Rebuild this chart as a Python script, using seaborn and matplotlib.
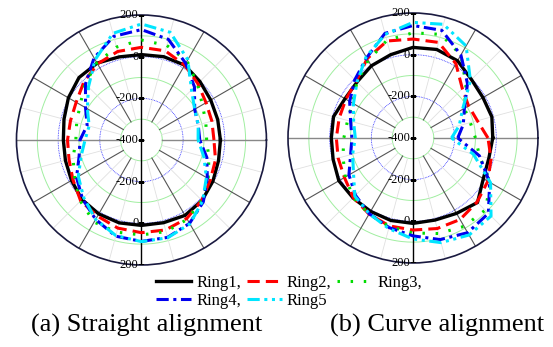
import numpy as np
import matplotlib
matplotlib.use("Agg")
import matplotlib.pyplot as plt
import matplotlib.transforms as mtransforms
import seaborn as sns

# angles in degrees (0 = east, counter-clockwise)
angles = list(range(0, 360, 15))

# (a) straight alignment
straight_ring1 = [-21, -21, -16, -3, 15, 14, 10, 13, 26, 24, 5, -15,
                  -25, -22, -12, 4, 10, 12, 10, 11, 18, 11, -4, -17]
straight_ring2 = [-52, -50, -42, -17, 15, 43, 45, 40, 22, -8, -38, -47,
                  -45, -40, -20, 13, 22, 38, 45, 47, 35, 10, -18, -32]
straight_ring3 = [-87, -80, -62, -20, 38, 70, 80, 62, 28, -18, -60, -78,
                  -85, -60, -30, 15, 55, 58, 56, 55, 40, 10, -30, -65]
straight_ring4 = [-120, -118, -105, -40, 25, 100, 130, 115, 55, -20, -90, -130,
                  -105, -90, -40, 0, 40, 78, 87, 84, 62, 20, -35, -75]
straight_ring5 = [-128, -118, -105, -60, 45, 135, 157, 130, 45, -40, -100, -140,
                  -129, -100, -50, -8, 40, 75, 88, 86, 65, 15, -40, -90]

# (b) curve alignment
curve_ring1 = [-17, -8, -12, -3, 28, 40, 35, 14, 0, -20, -23, -5,
               -8, -3, 11, 7, 7, 10, 10, 8, 18, 38, -10, -23]
curve_ring2 = [-40, -80, -92, -65, 12, 75, 75, 82, 40, -15, -28, -33,
               -32, -28, -20, 5, 22, 37, 42, 50, 52, 35, 15, -12]
curve_ring3 = [-100, -115, -115, -40, 60, 115, 105, 85, 30, -20, -65, -75,
               -68, -52, -25, 5, 22, 40, 56, 75, 90, 90, 30, -70]
curve_ring4 = [-185, -150, -115, -30, 60, 135, 140, 120, 45, -5, -49, -90,
               -107, -90, -45, -10, 20, 45, 70, 105, 125, 112, 25, -70]
curve_ring5 = [-215, -170, -125, -10, 110, 165, 155, 115, 50, -20, -70, -105,
               -123, -100, -70, -5, 20, 50, 85, 120, 138, 130, 30, -100]

ring_labels = ["Ring1,", "Ring2,", "Ring3,", "Ring4,", "Ring5"]
ring_colors = ["black", "#ff0000", "#00dd00", "#0000ee", "#00e5ff"]
ring_styles = ["-", (0, (4, 2)), (0, (0.8, 3.5)), (0, (4, 1.5, 1, 1.5)),
               (0, (4, 1.5, 1, 1.5, 1, 1.5))]
ring_widths = [2.4, 2.2, 2.2, 2.2, 2.2]

green_circles = [-300, -100, 100]
blue_circles = [-200, 0]
tick_up = [200, 0, -200]
tick_down = [-200, 0, 200]

plt.rcParams["font.family"] = ["Liberation Serif", "DejaVu Serif"]

fig = plt.figure(figsize=(5.53, 3.47), dpi=100)
ax_a = fig.add_axes([0.0298, 0.2363, 0.452, 0.7205], projection="polar")
ax_b = fig.add_axes([0.5208, 0.2421, 0.452, 0.7205], projection="polar")

full = np.linspace(0, 2 * np.pi, 361)


def draw_panel(ax, rings):
    ax.set_ylim(-400, 200)
    ax.grid(False)
    ax.set_xticks([])
    ax.set_yticks([])
    ax.spines["polar"].set_color("#1a1a40")
    ax.spines["polar"].set_linewidth(1.2)

    # grid circles
    for r in green_circles:
        ax.plot(full, np.full_like(full, r), color="#a0eea0", lw=0.7, zorder=1)
    for r in blue_circles:
        ax.plot(full, np.full_like(full, r), color="#3030ff", lw=0.6,
                ls=(0, (1, 1)), zorder=1)
    # spokes
    for a in range(0, 360, 15):
        t = np.deg2rad(a)
        if a % 90 == 0 and a in (90, 270):
            continue
        if a % 30 == 0:
            col, lw = ("#888888", 1.0) if a % 90 == 0 else ("#555555", 0.8)
        else:
            col, lw = "#e0e0e0", 0.6
        ax.plot([t, t], [-300, 200], color=col, lw=lw, zorder=1)
    ax.plot([np.pi / 2, np.pi / 2], [-400, 200], color="black", lw=1.0, zorder=2)
    ax.plot([3 * np.pi / 2, 3 * np.pi / 2], [-400, 200], color="black", lw=1.0, zorder=2)

    # data
    th = np.deg2rad(angles + [360])
    for vals, lab, c, ls, lw in zip(rings, ring_labels, ring_colors, ring_styles, ring_widths):
        v = list(vals) + [vals[0]]
        sns.lineplot(x=th, y=v, ax=ax, color=c, linestyle=ls, lw=lw,
                     label=lab, sort=False, legend=False, zorder=3)
    ax.set_xlabel("")
    ax.set_ylabel("")

    # radial tick labels along the vertical axis
    off = mtransforms.offset_copy(ax.transData, fig=fig, x=-2, y=0, units="points")
    for r in tick_up:
        ax.plot([np.pi / 2], [r], marker="_", color="black", ms=5, zorder=4)
        ax.text(np.pi / 2, r, str(r), transform=off, ha="right", va="center",
                fontsize=9, zorder=5)
    for r in tick_down:
        ax.plot([3 * np.pi / 2], [r], marker="_", color="black", ms=5, zorder=4)
        ax.text(3 * np.pi / 2, r, str(r), transform=off, ha="right", va="center",
                fontsize=9, zorder=5)
    ax.plot([0], [-400], marker="_", color="black", ms=5, zorder=4)
    ax.text(0, -400, "-400", transform=off, ha="right", va="center",
            fontsize=9, zorder=5)


draw_panel(ax_a, [straight_ring1, straight_ring2, straight_ring3,
                  straight_ring4, straight_ring5])
draw_panel(ax_b, [curve_ring1, curve_ring2, curve_ring3,
                  curve_ring4, curve_ring5])

# legend in row order: Ring1, Ring2, Ring3 / Ring4, Ring5
lines = ax_a.get_lines()
handles = [l for l in lines if l.get_label() in ring_labels]
order = [0, 3, 1, 4, 2]
fig.legend([handles[i] for i in order], [ring_labels[i] for i in order],
           loc="center", bbox_to_anchor=(0.523, 0.1585), ncol=3, frameon=False,
           fontsize=12, handlelength=2.1, handletextpad=0.3, columnspacing=0.35,
           labelspacing=0.15, borderpad=0)

fig.text(0.265, 0.063, "(a) Straight alignment", ha="center", va="center", fontsize=19)
fig.text(0.791, 0.063, "(b) Curve alignment", ha="center", va="center", fontsize=19)

fig.savefig("out.png", dpi=100)
